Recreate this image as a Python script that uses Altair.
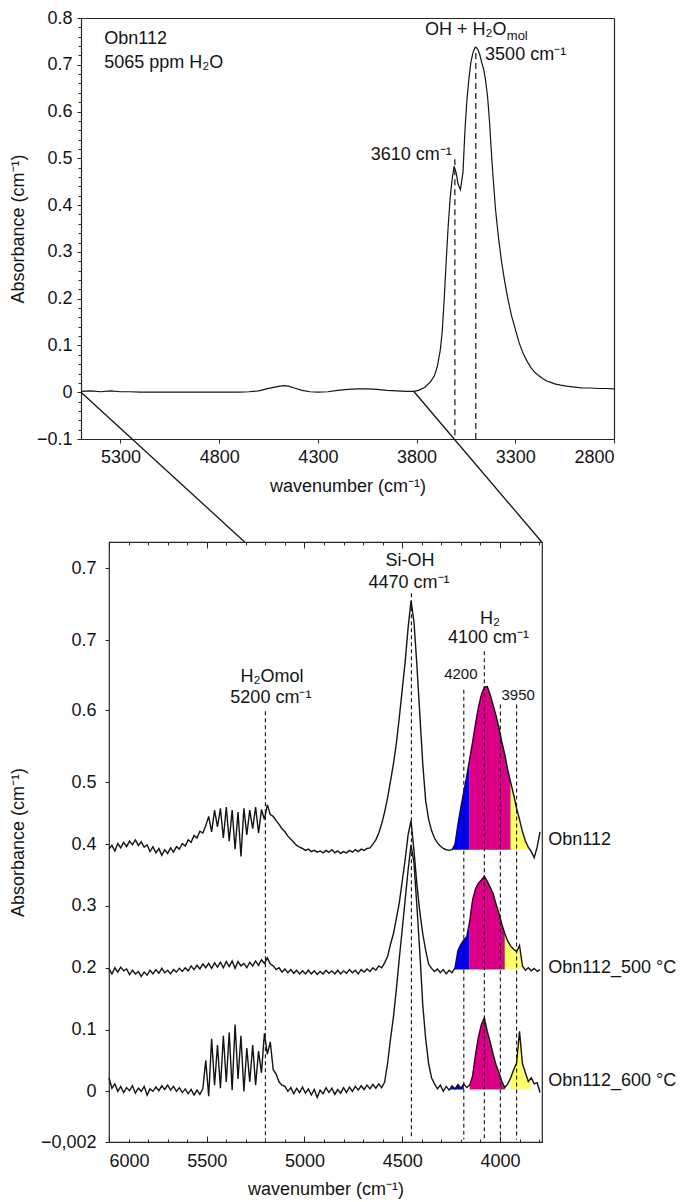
import altair as alt
import pandas as pd

FONT = "Liberation Sans"
INK = "#141414"
FRAME = "#262626"

# ---------------- top panel: full spectrum of Obn112 ----------------
TOP_WN = [5500, 5450, 5400, 5350, 5300, 5250, 5200, 5150, 5100, 5050,
          5000, 4950, 4900, 4850, 4800, 4750, 4700, 4650, 4600, 4560,
          4520, 4490, 4470, 4450, 4420, 4380, 4340, 4300, 4250, 4200,
          4150, 4100, 4050, 4000, 3950, 3900, 3850, 3815, 3790, 3760,
          3730, 3710, 3695, 3680, 3670, 3660, 3650, 3640, 3630, 3620,
          3610, 3600, 3590, 3578, 3565, 3555, 3545, 3535, 3525, 3515,
          3505, 3500, 3490, 3480, 3470, 3460, 3450, 3440, 3430, 3420,
          3410, 3400, 3385, 3370, 3355, 3340, 3320, 3300, 3280, 3260,
          3240, 3220, 3200, 3180, 3160, 3140, 3120, 3100, 3070, 3040,
          3000, 2960, 2920, 2880, 2840, 2800]
TOP_ABS = [0.002, 0.003, 0.001, 0.003, 0.001, 0.001, 0.0, 0.0, 0.0, 0.0,
           0.0, 0.0, 0.0, 0.0, 0.0, 0.0, 0.0, 0.001, 0.003, 0.007,
           0.011, 0.013, 0.014, 0.013, 0.009, 0.004, 0.001, 0.0, 0.001, 0.004,
           0.006, 0.007, 0.007, 0.006, 0.004, 0.003, 0.002, 0.002, 0.004, 0.01,
           0.022, 0.035, 0.055, 0.09, 0.13, 0.2, 0.28, 0.355, 0.415, 0.455,
           0.483, 0.47, 0.445, 0.433, 0.47, 0.56, 0.625, 0.67, 0.705, 0.725,
           0.736, 0.738, 0.733, 0.722, 0.705, 0.69, 0.665, 0.63, 0.575, 0.505,
           0.445, 0.39, 0.33, 0.28, 0.24, 0.205, 0.165, 0.135, 0.105, 0.083,
           0.066, 0.052, 0.042, 0.035, 0.029, 0.024, 0.021, 0.018, 0.015, 0.013,
           0.011, 0.009, 0.009, 0.008, 0.008, 0.007]

TOP_XTICKS = [5300, 4800, 4300, 3800, 3300, 2800]
TOP_YTICKS = [-0.1, 0, 0.1, 0.2, 0.3, 0.4, 0.5, 0.6, 0.7, 0.8]
TOP_YMINOR = [round(-0.1 + 0.02 * k, 2) for k in range(46)]

TOP_MARK_WN = [3606, 3500]
TOP_MARK_TOP = [0.498, 0.725]
TOP_MARK_BOTTOM = [-0.1, -0.1]

# zoom connector lines (from the top spectrum down to the lower panel's top edge)
ZOOM_GROUP = ["left", "left", "right", "right"]
ZOOM_WN = [5500, 4671, 3815, 3166]
ZOOM_ABS = [0.0, -0.3202, 0.002, -0.3202]

TOP_TXT_LEFT = ["Obn112", "5065 ppm H₂O", "3500 cm⁻¹"]
TOP_TXT_LEFT_WN = [5382, 5382, 3453]
TOP_TXT_LEFT_A = [0.755, 0.703, 0.72]
TOP_TXT_RIGHT = ["3610 cm⁻¹", "OH + H₂O"]
TOP_TXT_RIGHT_WN = [3622, 3345]
TOP_TXT_RIGHT_A = [0.507, 0.775]
TOP_TXT_SUB = ["mol"]
TOP_TXT_SUB_WN = [3343]
TOP_TXT_SUB_A = [0.761]

# ---------------- bottom panel: stacked spectra ----------------
BOT_WN = [6000, 5985, 5970, 5955, 5940, 5925, 5910, 5895, 5880, 5865,
          5850, 5835, 5820, 5805, 5790, 5775, 5760, 5745, 5730, 5715,
          5700, 5685, 5670, 5655, 5640, 5625, 5610, 5595, 5580, 5565,
          5550, 5535, 5520, 5505, 5490, 5475, 5460, 5445, 5430, 5415,
          5400, 5385, 5370, 5355, 5340, 5325, 5310, 5295, 5280, 5265,
          5250, 5235, 5220, 5205, 5190, 5175, 5160, 5145, 5130, 5115,
          5100, 5085, 5070, 5055, 5040, 5025, 5010, 4995, 4980, 4965,
          4950, 4935, 4920, 4905, 4890, 4875, 4860, 4845, 4830, 4815,
          4800, 4785, 4770, 4755, 4740, 4725, 4710, 4695, 4680, 4665,
          4650, 4635, 4620, 4605, 4590, 4575, 4560, 4545, 4530, 4515,
          4500, 4485, 4470, 4455, 4440, 4425, 4410, 4395, 4380, 4365,
          4350, 4335, 4320, 4305, 4290, 4275, 4260, 4245, 4230, 4215,
          4200, 4185, 4170, 4155, 4140, 4125, 4110, 4095, 4080, 4065,
          4050, 4035, 4020, 4005, 3990, 3975, 3960, 3945, 3930, 3915,
          3900, 3885, 3870, 3855, 3840, 3825, 3810, 3795]

OBN112 = [0.392, 0.398, 0.389, 0.401, 0.394, 0.403, 0.396, 0.405, 0.399, 0.407,
          0.398, 0.404, 0.395, 0.399, 0.388, 0.396, 0.386, 0.393, 0.382, 0.391,
          0.385, 0.394, 0.387, 0.396, 0.392, 0.401, 0.397, 0.407, 0.403, 0.414,
          0.41, 0.421, 0.418, 0.43, 0.445, 0.42, 0.455, 0.428, 0.458, 0.41,
          0.46, 0.405, 0.455, 0.392, 0.452, 0.38, 0.458, 0.415, 0.455, 0.425,
          0.46, 0.418, 0.456, 0.44, 0.464, 0.448, 0.445, 0.438, 0.432, 0.425,
          0.42, 0.413, 0.408, 0.403, 0.398, 0.395, 0.393, 0.39, 0.392, 0.388,
          0.39, 0.387, 0.389, 0.386, 0.39, 0.387, 0.391, 0.386, 0.389, 0.385,
          0.388, 0.386, 0.39, 0.387, 0.391, 0.388, 0.392, 0.39, 0.393, 0.394,
          0.4, 0.407, 0.418, 0.433, 0.452, 0.475, 0.502, 0.53, 0.563, 0.605,
          0.65, 0.695, 0.75, 0.794, 0.76, 0.69, 0.61, 0.53, 0.47, 0.44,
          0.422, 0.41, 0.402, 0.397, 0.393, 0.391, 0.39, 0.391, 0.4, 0.432,
          0.46, 0.485, 0.51, 0.538, 0.565, 0.595, 0.622, 0.642, 0.654, 0.655,
          0.642, 0.625, 0.608, 0.588, 0.565, 0.545, 0.52, 0.5, 0.48, 0.458,
          0.44, 0.42, 0.405, 0.395, 0.388, 0.378, 0.395, 0.42]

OBN112_500 = [0.198, 0.19, 0.2, 0.193, 0.201, 0.195, 0.198, 0.189, 0.196, 0.19,
              0.194, 0.186, 0.193, 0.188, 0.196, 0.19, 0.197, 0.191, 0.199, 0.192,
              0.196, 0.19, 0.197, 0.193, 0.199, 0.194, 0.2, 0.195, 0.203, 0.197,
              0.204, 0.198, 0.206, 0.2, 0.207, 0.199, 0.208, 0.201, 0.209, 0.2,
              0.21, 0.202, 0.211, 0.199, 0.21, 0.203, 0.207, 0.2, 0.209, 0.203,
              0.211, 0.204, 0.213, 0.207, 0.216, 0.206, 0.203, 0.197, 0.2, 0.193,
              0.198, 0.192, 0.197, 0.191, 0.196, 0.19, 0.195, 0.19, 0.196, 0.19,
              0.195, 0.189, 0.194, 0.19, 0.196, 0.191, 0.195, 0.19, 0.196, 0.19,
              0.195, 0.191, 0.197, 0.192, 0.196, 0.19, 0.197, 0.193, 0.198, 0.194,
              0.2, 0.196, 0.203, 0.2, 0.208, 0.218, 0.238, 0.255, 0.28, 0.305,
              0.34, 0.375, 0.415, 0.438, 0.39, 0.335, 0.29, 0.255, 0.228, 0.206,
              0.199, 0.194, 0.198, 0.192, 0.197, 0.19, 0.196, 0.192, 0.2, 0.228,
              0.238, 0.245, 0.25, 0.275, 0.31, 0.328, 0.337, 0.342, 0.348, 0.34,
              0.33, 0.32, 0.303, 0.288, 0.27, 0.255, 0.243, 0.235, 0.23, 0.226,
              0.236, 0.203, 0.196, 0.2, 0.195, 0.199, 0.194, 0.197]

OBN112_600 = [0.022, 0.005, 0.012, 0.0, 0.008, -0.002, 0.006, 0.001, 0.009, -0.003,
              0.005, 0.0, 0.008, -0.006, 0.004, 0.0, 0.007, 0.001, 0.009, 0.003,
              0.01, 0.002, 0.008, 0.0, 0.006, -0.002, 0.004, -0.004, 0.003, -0.006,
              0.002, -0.005, 0.004, 0.05, -0.008, 0.085, 0.01, 0.075, 0.005, 0.09,
              0.015, 0.095, 0.002, 0.108, 0.02, 0.09, 0.0, 0.07, 0.015, 0.075,
              0.01, 0.065, 0.03, 0.094, 0.06, 0.08, 0.035, 0.028, 0.015, 0.01,
              0.008, 0.0, 0.006, -0.004, 0.005, -0.002, 0.007, -0.003, 0.004, -0.006,
              0.003, -0.01, 0.002, -0.004, 0.006, -0.002, 0.005, -0.005, 0.003, -0.003,
              0.006, -0.002, 0.007, 0.0, 0.008, 0.002, 0.009, 0.003, 0.01, 0.004,
              0.011, 0.005, 0.012, 0.006, 0.015, 0.045, 0.085, 0.12, 0.165, 0.215,
              0.262, 0.31, 0.358, 0.399, 0.37, 0.3, 0.225, 0.14, 0.085, 0.045,
              0.022, 0.012, 0.004, 0.01, 0.0, 0.008, 0.002, 0.009, 0.004, 0.011,
              0.005, 0.012, 0.006, 0.01, 0.025, 0.06, 0.088, 0.108, 0.119, 0.097,
              0.08, 0.06, 0.043, 0.03, 0.016, 0.006, 0.012, 0.022, 0.035, 0.046,
              0.097, 0.045, 0.03, 0.016, 0.022, 0.012, 0.014, -0.002]

SPEC_NAMES = ["Obn112", "Obn112_500", "Obn112_600"]
SPEC_VALUES = [OBN112, OBN112_500, OBN112_600]
SPEC_BASE = [0.391, 0.197, 0.003]
SEG_NAMES = ["blue", "magenta", "yellow"]
SEG_COLORS = ["#0000ff", "#dc0088", "#ffff66"]
SEG_WINDOWS = [
    [(4245, 4155), (4155, 3945), (3945, 3840)],
    [(4230, 4155), (4155, 3975), (3975, 3885)],
    [(4260, 4185), (4155, 3975), (3945, 3840)],
]

BOT_XTICKS = [6000, 5500, 5000, 4500, 4000]
BOT_XMINOR = [6000 - 100 * k for k in range(23)]
BOT_YTICKS = [-0.082, 0, 0.1, 0.2, 0.3, 0.4, 0.5, 0.6165, 0.7298, 0.8468]
BOT_YLABELS = ["−0,002", "0", "0.1", "0.2", "0.3", "0.4", "0.5", "0.6", "0.7", "0.7"]

BOT_MARK_WN = [5200, 4453, 4185, 4080, 3998, 3915]
BOT_MARK_TOP = [0.615, 0.806, 0.65, 0.712, 0.626, 0.626]
BOT_MARK_BOTTOM = [-0.078] * 6

BOT_TXT_BIG = ["H₂Omol", "5200 cm⁻¹", "Si-OH", "4470 cm⁻¹", "H₂", "4100 cm⁻¹"]
BOT_TXT_BIG_WN = [5166, 5172, 4460, 4465, 4051, 4059]
BOT_TXT_BIG_V = [0.670, 0.636, 0.859, 0.822, 0.764, 0.733]
BOT_TXT_SMALL = ["4200", "3950"]
BOT_TXT_SMALL_WN = [4200, 3907]
BOT_TXT_SMALL_V = [0.675, 0.641]
BOT_TXT_RIGHT = ["Obn112", "Obn112_500 °C", "Obn112_600 °C"]
BOT_TXT_RIGHT_WN = [3753, 3753, 3753]
BOT_TXT_RIGHT_V = [0.406, 0.2, 0.016]

# ---------------- data frames ----------------
top_df = pd.DataFrame({"wn": TOP_WN, "a": TOP_ABS})
top_marks = pd.DataFrame({"wn": TOP_MARK_WN, "top": TOP_MARK_TOP, "bottom": TOP_MARK_BOTTOM})
zoom_df = pd.DataFrame({"grp": ZOOM_GROUP, "wn": ZOOM_WN, "a": ZOOM_ABS})
top_left_df = pd.DataFrame({"t": TOP_TXT_LEFT, "wn": TOP_TXT_LEFT_WN, "a": TOP_TXT_LEFT_A})
top_right_df = pd.DataFrame({"t": TOP_TXT_RIGHT, "wn": TOP_TXT_RIGHT_WN, "a": TOP_TXT_RIGHT_A})
top_sub_df = pd.DataFrame({"t": TOP_TXT_SUB, "wn": TOP_TXT_SUB_WN, "a": TOP_TXT_SUB_A})

rows = []
for name, vals in zip(SPEC_NAMES, SPEC_VALUES):
    for w, v in zip(BOT_WN, vals):
        rows.append({"name": name, "wn": w, "val": v})
bot_df = pd.DataFrame(rows)

frows = []
for name, vals, base, wins in zip(SPEC_NAMES, SPEC_VALUES, SPEC_BASE, SEG_WINDOWS):
    for seg, (hi, lo) in zip(SEG_NAMES, wins):
        for w, v in zip(BOT_WN, vals):
            if lo <= w <= hi:
                frows.append({"key": name + seg, "seg": seg, "wn": w, "val": v, "base": base})
fill_df = pd.DataFrame(frows)

bot_marks = pd.DataFrame({"wn": BOT_MARK_WN, "top": BOT_MARK_TOP, "bottom": BOT_MARK_BOTTOM})
big_df = pd.DataFrame({"t": BOT_TXT_BIG, "wn": BOT_TXT_BIG_WN, "v": BOT_TXT_BIG_V})
small_df = pd.DataFrame({"t": BOT_TXT_SMALL, "wn": BOT_TXT_SMALL_WN, "v": BOT_TXT_SMALL_V})
right_df = pd.DataFrame({"t": BOT_TXT_RIGHT, "wn": BOT_TXT_RIGHT_WN, "v": BOT_TXT_RIGHT_V})

# ---------------- top panel ----------------
# the top frame starts 28px left of the lower panel's frame
SHIFT = 28
TOP_W = 533
TOP_H = 421
GAP = 103
xt = alt.Scale(domain=[2800, 5500], reverse=True, nice=False, zero=False,
               range=[-SHIFT, TOP_W - SHIFT])
yt = alt.Scale(domain=[-0.1, 0.8], nice=False, zero=False)

frame_axis = dict(domain=True, domainColor=FRAME, domainWidth=1.2)

top_line = alt.Chart(top_df).mark_line(color=INK, strokeWidth=1.2).encode(
    x=alt.X("wn:Q", scale=xt, axis=alt.Axis(
        orient="bottom", values=TOP_XTICKS, format="d", title="wavenumber (cm⁻¹)",
        tickSize=4, labelPadding=5, titlePadding=11, **frame_axis)),
    y=alt.Y("a:Q", scale=yt, axis=alt.Axis(
        orient="left", values=TOP_YTICKS, title="Absorbance (cm⁻¹)", offset=SHIFT,
        labelExpr="abs(datum.value) < 1e-9 ? '0' : format(datum.value, '.1f')",
        tickSize=4, labelPadding=5, titlePadding=9, **frame_axis)),
)

top_rules = alt.Chart(top_marks).mark_rule(color=INK, strokeWidth=1.2, strokeDash=[6, 4]).encode(
    x=alt.X("wn:Q", scale=xt, axis=alt.Axis(
        orient="top", labels=False, ticks=False, title=None, **frame_axis)),
    y=alt.Y("top:Q", scale=yt, axis=alt.Axis(
        orient="left", values=TOP_YMINOR, labels=False, tickSize=3, offset=SHIFT,
        domain=False, title=None)),
    y2="bottom:Q",
)

top_zoom = alt.Chart(zoom_df).mark_line(color=INK, strokeWidth=1.3).encode(
    x=alt.X("wn:Q", scale=xt, axis=None),
    y=alt.Y("a:Q", scale=yt, axis=alt.Axis(
        orient="right", labels=False, ticks=False, title=None, **frame_axis)),
    detail="grp:N",
)

def top_text(df, align, size=18):
    return alt.Chart(df).mark_text(font=FONT, fontSize=size, align=align, baseline="middle", color=INK).encode(
        x=alt.X("wn:Q", scale=xt, axis=None),
        y=alt.Y("a:Q", scale=yt, axis=None),
        text="t:N",
    )

top = alt.layer(
    top_line, top_rules, top_zoom,
    top_text(top_left_df, "left"), top_text(top_right_df, "right"), top_text(top_sub_df, "left", 13),
).resolve_axis(x="independent", y="independent").properties(
    width=TOP_W - SHIFT, height=TOP_H, view=alt.ViewBackground(stroke="transparent"))

# ---------------- bottom panel ----------------
xb = alt.Scale(domain=[3785, 6000], reverse=True, nice=False, zero=False)
yb = alt.Scale(domain=[-0.082, 0.889], nice=False, zero=False)

ylab_expr = " : ".join(
    f"abs(datum.value - ({v})) < 1e-6 ? '{lab}'" for v, lab in zip(BOT_YTICKS, BOT_YLABELS)
) + " : ''"

fills = alt.Chart(fill_df).mark_area(opacity=1).encode(
    x=alt.X("wn:Q", scale=xb, axis=alt.Axis(
        orient="bottom", values=BOT_XMINOR, labels=False, tickSize=3, offset=-3,
        domain=False, title=None)),
    y=alt.Y("val:Q", scale=yb, axis=None),
    y2="base:Q",
    color=alt.Color("seg:N", scale=alt.Scale(domain=SEG_NAMES, range=SEG_COLORS), legend=None),
    detail="key:N",
)

lines = alt.Chart(bot_df).mark_line(color=INK, strokeWidth=1.4).encode(
    x=alt.X("wn:Q", scale=xb, axis=alt.Axis(
        orient="bottom", values=BOT_XTICKS, format="d", title="wavenumber (cm⁻¹)",
        tickSize=6, offset=-6, labelPadding=10, titlePadding=10, domain=False)),
    y=alt.Y("val:Q", scale=yb, axis=alt.Axis(
        orient="left", values=BOT_YTICKS, labelExpr=ylab_expr, title="Absorbance (cm⁻¹)",
        tickSize=4, labelPadding=9, titlePadding=13, domain=False)),
    detail="name:N",
)

bot_rules = alt.Chart(bot_marks).mark_rule(color=INK, strokeWidth=1.1, strokeDash=[4, 3]).encode(
    x=alt.X("wn:Q", scale=xb, axis=alt.Axis(
        orient="top", values=BOT_XTICKS, labels=False, tickSize=6, offset=-6,
        domain=False, title=None)),
    y=alt.Y("top:Q", scale=yb, axis=None),
    y2="bottom:Q",
)

big_txt = alt.Chart(big_df).mark_text(font=FONT, fontSize=18, align="center", baseline="middle", color=INK).encode(
    x=alt.X("wn:Q", scale=xb, axis=alt.Axis(
        orient="top", values=BOT_XMINOR, labels=False, tickSize=3, offset=-3,
        domain=False, title=None)),
    y=alt.Y("v:Q", scale=yb, axis=None),
    text="t:N",
)
small_txt = alt.Chart(small_df).mark_text(font=FONT, fontSize=15, align="center", baseline="middle", color=INK).encode(
    x=alt.X("wn:Q", scale=xb, axis=None),
    y=alt.Y("v:Q", scale=yb, axis=None),
    text="t:N",
)
right_txt = alt.Chart(right_df).mark_text(font=FONT, fontSize=18, align="left", baseline="middle", color=INK).encode(
    x=alt.X("wn:Q", scale=xb, axis=None),
    y=alt.Y("v:Q", scale=yb, axis=None),
    text="t:N",
)

bottom = alt.layer(
    fills, lines, bot_rules, big_txt, small_txt, right_txt,
).resolve_axis(x="independent", y="independent").properties(width=433, height=600)

chart = alt.concat(
    top, bottom, columns=1, spacing=GAP, bounds="flush"
).properties(
    padding={"left": 0, "top": 0, "right": 0, "bottom": 0}
).configure_axis(
    labelFont=FONT, titleFont=FONT, labelFontSize=18, titleFontSize=18,
    titleFontWeight="normal", labelColor=INK, titleColor=INK,
    tickColor=FRAME, grid=False,
).configure_view(stroke=FRAME, strokeWidth=1.2)

chart.save("out.html", embed_options={"renderer": "svg", "actions": False})
